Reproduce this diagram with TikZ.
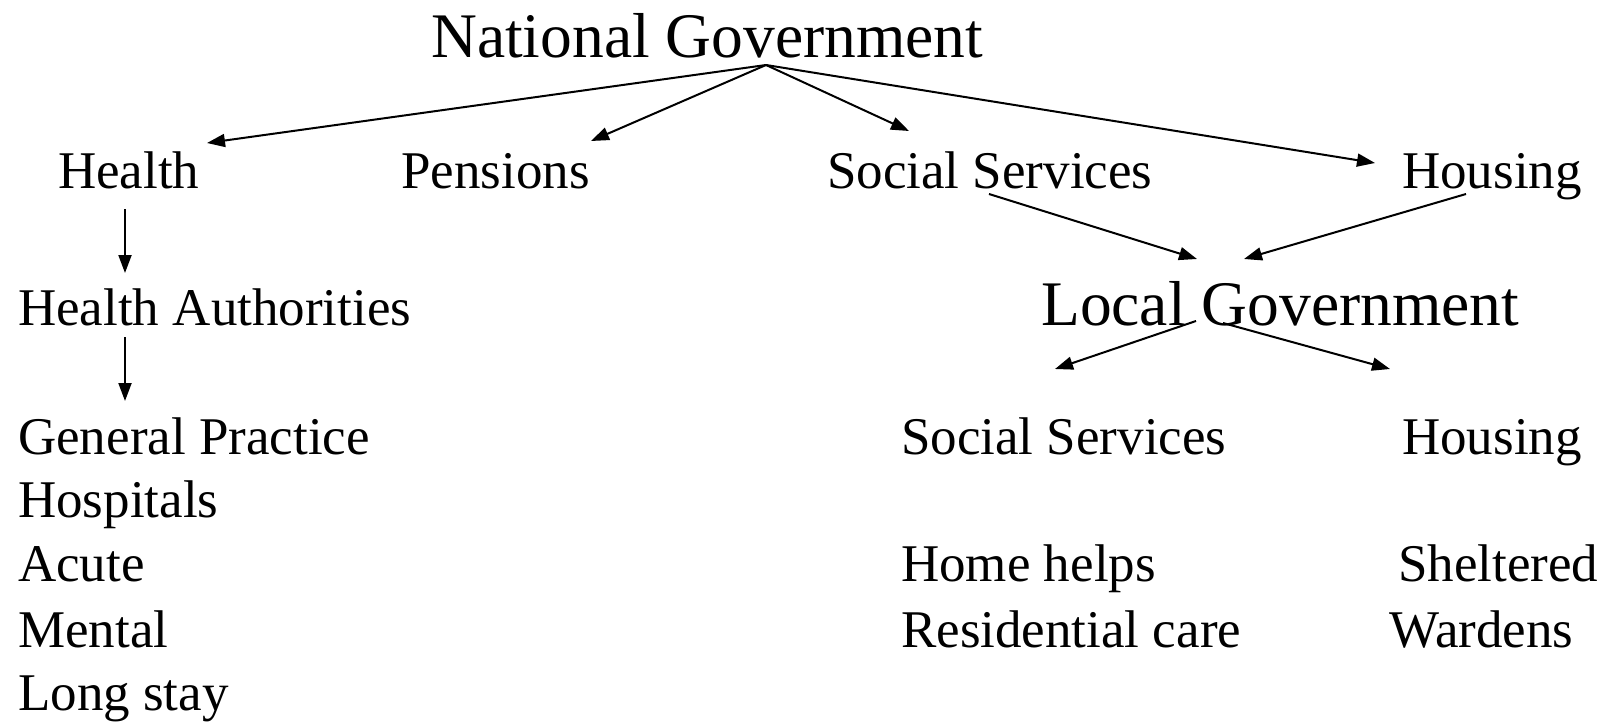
\documentclass[tikz,border=0pt]{standalone}
\usepackage{fontspec}
\setmainfont{Liberation Serif}
\usetikzlibrary{arrows.meta}
\begin{document}
\begin{tikzpicture}[x=1pt,y=-1pt,
  lbl/.style={anchor=base west,inner sep=0pt,font=\fontsize{53}{53}\selectfont},
  big/.style={anchor=base west,inner sep=0pt,font=\fontsize{63.5}{63.5}\selectfont},
  arr/.style={line width=2pt,-{Triangle[length=18pt,width=13pt]}}]
\useasboundingbox (0,0) rectangle (1605,722);
% texts
\node[big] (ng) at (431,58) {National Government};
\node[lbl] (health) at (58,189) {Health};
\node[lbl] (pens) at (401,189) {Pensions};
\node[lbl] (ss) at (827,189) {Social Services};
\node[lbl] (hous) at (1402,189) {Housing};
\node[lbl] (ha) at (18,325) {Health Authorities};
\node[big] (lg) at (1041,325) {Local Government};
\node[lbl] (gp) at (18,454) {General Practice};
\node[lbl] (hosp) at (18,517) {Hospitals};
\node[lbl] (acute) at (18,581) {Acute};
\node[lbl] (mental) at (18,647) {Mental};
\node[lbl] (long) at (18,710) {Long stay};
\node[lbl] (ss2) at (901,454) {Social Services};
\node[lbl] (hous2) at (1402,454) {Housing};
\node[lbl] (home) at (901,581) {Home helps};
\node[lbl] (resi) at (901,647) {Residential care};
\node[lbl] (shel) at (1398,581) {Sheltered};
\node[lbl] (ward) at (1389,647) {Wardens};
% connector end points
\coordinate (ngtop) at (766,65);
\coordinate (tH) at (207,143);
\coordinate (tP) at (591,141);
\coordinate (tS) at (909,131);
\coordinate (tHo) at (1375,163);
\coordinate (hA) at (125,209);
\coordinate (hB) at (125,273);
\coordinate (haA) at (125,337);
\coordinate (haB) at (125,401);
\coordinate (ssA) at (989,194);
\coordinate (lgL) at (1197,259);
\coordinate (hoA) at (1466,194);
\coordinate (lgR) at (1244,259);
\coordinate (lgS1) at (1196,321);
\coordinate (lgE1) at (1055,369);
\coordinate (lgS2) at (1223,323);
\coordinate (lgE2) at (1390,369);
% connectors
\draw[arr] (ngtop) -- (tH);
\draw[arr] (ngtop) -- (tP);
\draw[arr] (ngtop) -- (tS);
\draw[arr] (ngtop) -- (tHo);
\draw[arr] (hA) -- (hB);
\draw[arr] (haA) -- (haB);
\draw[arr] (ssA) -- (lgL);
\draw[arr] (hoA) -- (lgR);
\draw[arr] (lgS1) -- (lgE1);
\draw[arr] (lgS2) -- (lgE2);
\end{tikzpicture}
\end{document}
